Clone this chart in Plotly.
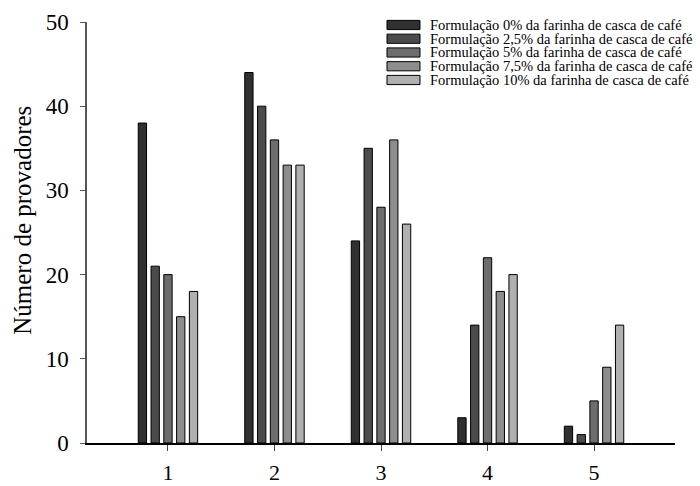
import plotly.graph_objects as go

# Acceptance scale categories (1 = lowest, 5 = highest)
categories = [1, 2, 3, 4, 5]

series_names = [
    "Formulação 0% da farinha de casca de café",
    "Formulação 2,5% da farinha de casca de café",
    "Formulação 5% da farinha de casca de café",
    "Formulação 7,5% da farinha de casca de café",
    "Formulação 10% da farinha de casca de café",
]

# Number of panelists per score, for each formulation
f0 = [38, 44, 24, 3, 2]
f25 = [21, 40, 35, 14, 1]
f5 = [20, 36, 28, 22, 5]
f75 = [15, 33, 36, 18, 9]
f10 = [18, 33, 26, 20, 14]

series_values = [f0, f25, f5, f75, f10]
series_colors = ["#303030", "#4b4b4b", "#6d6d6d", "#8d8d8d", "#b0b0b0"]

y_ticks = [0, 10, 20, 30, 40, 50]
y_title = "Número de provadores"

FONT = "Liberation Serif, Times New Roman, serif"

fig = go.Figure()
for name, vals, col in zip(series_names, series_values, series_colors):
    fig.add_trace(go.Bar(
        x=categories, y=vals, name=name,
        marker=dict(color=col, line=dict(color="#000000", width=1)),
        showlegend=False,
    ))

# Hand-built legend: wide swatches with text to the right
row_top = 0.9929
row_step = 13.75 / 421
box_h = 4.6 / 421
for i, (name, col) in enumerate(zip(series_names, series_colors)):
    yc = row_top - i * row_step
    fig.add_shape(type="rect", xref="paper", yref="paper",
                  x0=0.5102, x1=0.5663, y0=yc - box_h, y1=yc + box_h,
                  fillcolor=col, line=dict(color="#000000", width=1))
    fig.add_annotation(xref="paper", yref="paper", x=0.5816, y=yc,
                       xanchor="left", yanchor="middle", showarrow=False,
                       borderpad=0,
                       text=name, font=dict(family=FONT, size=14.5, color="#000000"))

# Vertical axis title
fig.add_annotation(xref="paper", yref="paper", x=-0.109, y=0.53,
                   xanchor="center", yanchor="middle", showarrow=False,
                   textangle=-90, text=y_title,
                   font=dict(family=FONT, size=25, color="#000000"))

fig.update_layout(
    width=700, height=486,
    margin=dict(l=87, r=25, t=22, b=43),
    paper_bgcolor="white", plot_bgcolor="white",
    barmode="group", bargap=0.4, bargroupgap=0.35,
    font=dict(family=FONT, color="#000000"),
)
fig.update_xaxes(
    range=[0.24, 5.76], tickvals=categories, ticktext=[str(c) for c in categories],
    showgrid=False, zeroline=False, automargin=False,
    showline=True, linecolor="#000000", linewidth=1.5,
    ticks="outside", ticklen=6, tickwidth=1, tickcolor="#444444",
    tickfont=dict(family=FONT, size=22, color="#000000"),
    ticklabelstandoff=3,
)
fig.update_yaxes(
    range=[0, 50], tickvals=y_ticks,
    showgrid=False, zeroline=False, automargin=False,
    showline=True, linecolor="#555555", linewidth=1.5,
    ticks="outside", ticklen=5, tickwidth=1, tickcolor="#555555",
    tickfont=dict(family=FONT, size=23, color="#000000"),
    ticklabelstandoff=7,
)

fig.write_html("out.html")
